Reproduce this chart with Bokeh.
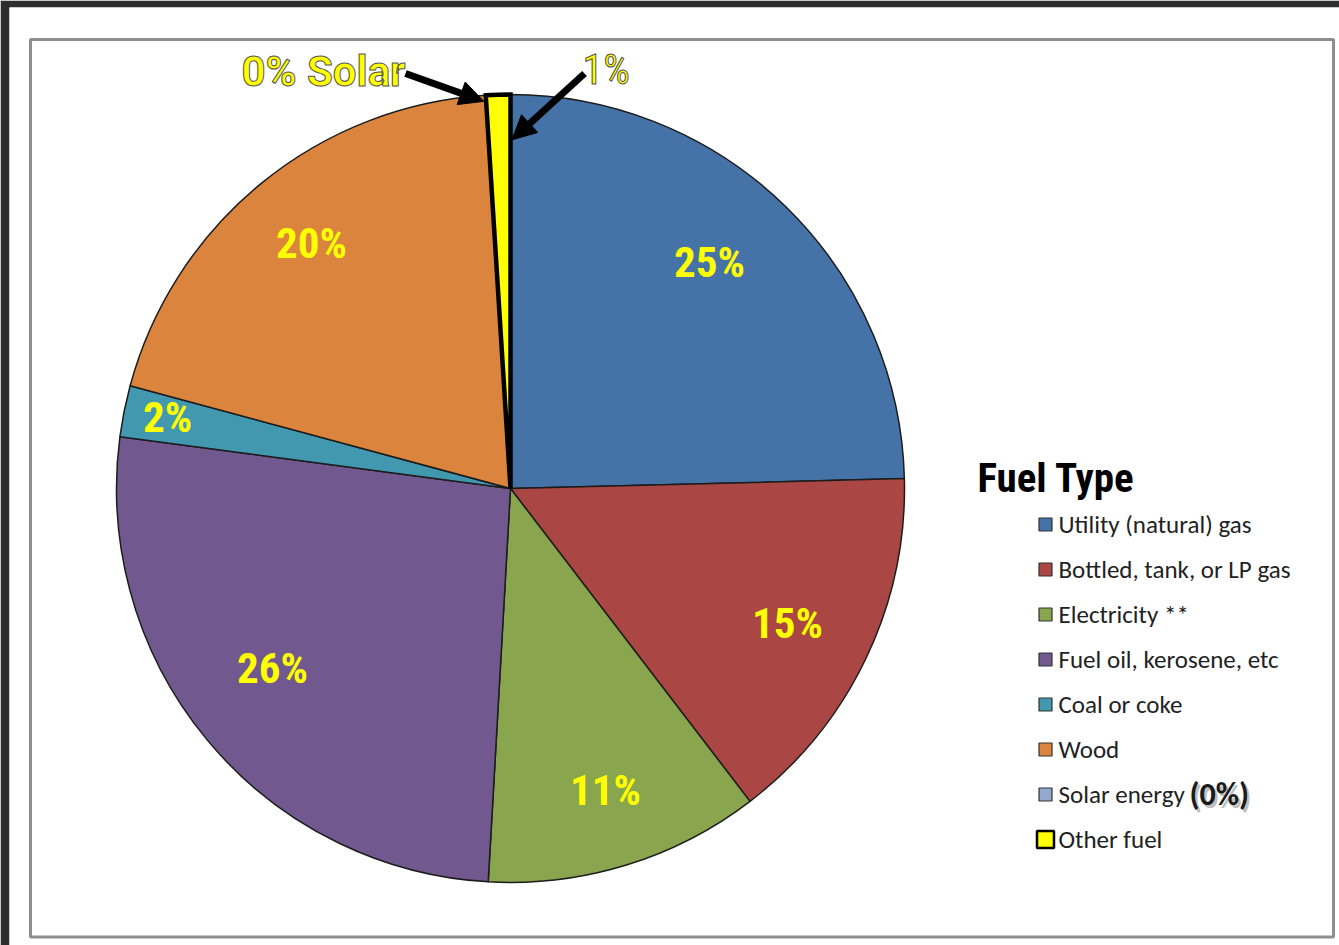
import numpy as np
from bokeh.plotting import figure
from bokeh.models import Range1d, ColumnDataSource, Arrow, NormalHead
from bokeh.core.properties import value
from bokeh.embed import file_html
from bokeh.resources import INLINE

# ---------------- data ----------------
categories = ["Utility (natural) gas", "Bottled, tank, or LP gas", "Electricity **",
              "Fuel oil, kerosene, etc", "Coal or coke", "Wood", "Solar energy", "Other fuel"]
shares = [24.6, 15.0, 11.3, 26.2, 2.1, 19.8, 0.0, 1.0]
pct_labels = ["25%", "15%", "11%", "26%", "2%", "20%", "0%", "1%"]
legend_title = "Fuel Type"

# ---------------- style / layout ----------------
colors = ["#4572A7", "#AA4643", "#89A54E", "#71588F", "#4198AF", "#DB843D", "#93A9CF", "#FFFF00"]
# label anchor points in page pixels (x, y from top)
label_pos = [(709, 261), (787, 622), (605, 789), (272, 667), (167, 416), (311, 242)]
COND = "Roboto Condensed"
W, H = 1339, 945


def py(y):
    return H - y


p = figure(width=W, height=H, output_backend="svg", toolbar_location=None,
           x_range=Range1d(9, W), y_range=Range1d(0, H - 7),
           x_axis_location=None, y_axis_location=None,
           min_border_left=9, min_border_right=0, min_border_top=7, min_border_bottom=0,
           background_fill_color="white", border_fill_color="#2e2e2e")
p.grid.visible = False
p.outline_line_color = None

# inner gray panel border
p.quad(left=30, right=1333, top=py(39), bottom=py(936.5), fill_color=None,
       line_color="#8e8e8e", line_width=3)

cx, cy, R = 510, py(488), 394

vals = np.array(shares, dtype=float)
cum = np.concatenate([[0.0], np.cumsum(vals)]) / vals.sum() * 2 * np.pi
start = np.pi / 2 - cum[:-1]
end = np.pi / 2 - cum[1:]

# normal slices
idx = [i for i in range(len(vals)) if vals[i] > 0 and i != 7]
src = ColumnDataSource(dict(start=start[idx], end=end[idx], color=[colors[i] for i in idx]))
p.wedge(x=cx, y=cy, radius=R, start_angle="start", end_angle="end", direction="clock",
        fill_color="color", line_color="#1c1c1c", line_width=1.5, source=src)

# "Other fuel" slice, outlined heavily
p.wedge(x=cx, y=cy, radius=R, start_angle=start[7], end_angle=end[7], direction="clock",
        fill_color=colors[7], line_color="black", line_width=4.5, line_join="miter")

# inside percentage labels
p.text(x=[q[0] for q in label_pos], y=[py(q[1]) for q in label_pos], text=pct_labels[:6],
       text_font=value(COND), text_font_size="43px", text_font_style="bold",
       text_color="#FFFF00", text_align="center", text_baseline="middle")

# callout labels
p.text(x=[405], y=[py(71)], text=[pct_labels[6] + " Solar"], text_font=value("Roboto"),
       text_font_size="42px", text_font_style="bold", text_color="#FFFF00",
       text_outline_color="#555555", text_align="right", text_baseline="middle")
p.text(x=[582], y=[py(69)], text=[pct_labels[7]], text_font=value(COND),
       text_font_size="42px", text_font_style="normal", text_color="#FFFF00",
       text_outline_color="#555555", text_align="left", text_baseline="middle")

# arrows toward the thin slice
a1 = start[7] + 0.006
a2 = end[7] - 0.004
p.add_layout(Arrow(end=NormalHead(size=24, fill_color="black", line_color="black"),
                   x_start=405, y_start=py(73),
                   x_end=cx + 0.985 * R * np.cos(a1), y_end=cy + 0.985 * R * np.sin(a1),
                   line_width=7, line_color="black"))
p.add_layout(Arrow(end=NormalHead(size=24, fill_color="black", line_color="black"),
                   x_start=584, y_start=py(73),
                   x_end=cx + 0.885 * R * np.cos(a2), y_end=cy + 0.885 * R * np.sin(a2),
                   line_width=7, line_color="black"))

# legend
p.text(x=[977], y=[py(477)], text=[legend_title], text_font=value(COND), text_font_size="41px",
       text_font_style="bold", text_color="black", text_align="left", text_baseline="middle")
row_y = [py(524 + 45 * i) for i in range(len(categories))]
msize = [13] * 7 + [17]
mlw = [1.2] * 7 + [2.5]
mlc = ["#333333"] * 7 + ["black"]
p.scatter(x=[1045] * len(categories), y=row_y, marker="square", size=msize,
          fill_color=colors, line_color=mlc, line_width=mlw)
p.text(x=[1058] * len(categories), y=row_y, text=categories, text_font=value("Carlito"),
       text_font_size="25px", text_color="#222222", text_align="left", text_baseline="middle")
# bold "(0%)" after Solar energy with soft shadow
p.text(x=[1191.5], y=[row_y[6] - 2.5], text=["(" + pct_labels[6] + ")"], text_font=value("Carlito"),
       text_font_size="32px", text_font_style="bold", text_color="#8a8a8a", text_alpha=0.55,
       text_align="left", text_baseline="middle")
p.text(x=[1189], y=[row_y[6]], text=["(" + pct_labels[6] + ")"], text_font=value("Carlito"),
       text_font_size="32px", text_font_style="bold", text_color="#1a1a1a",
       text_align="left", text_baseline="middle")

open("out.html", "w").write(file_html(p, INLINE))
